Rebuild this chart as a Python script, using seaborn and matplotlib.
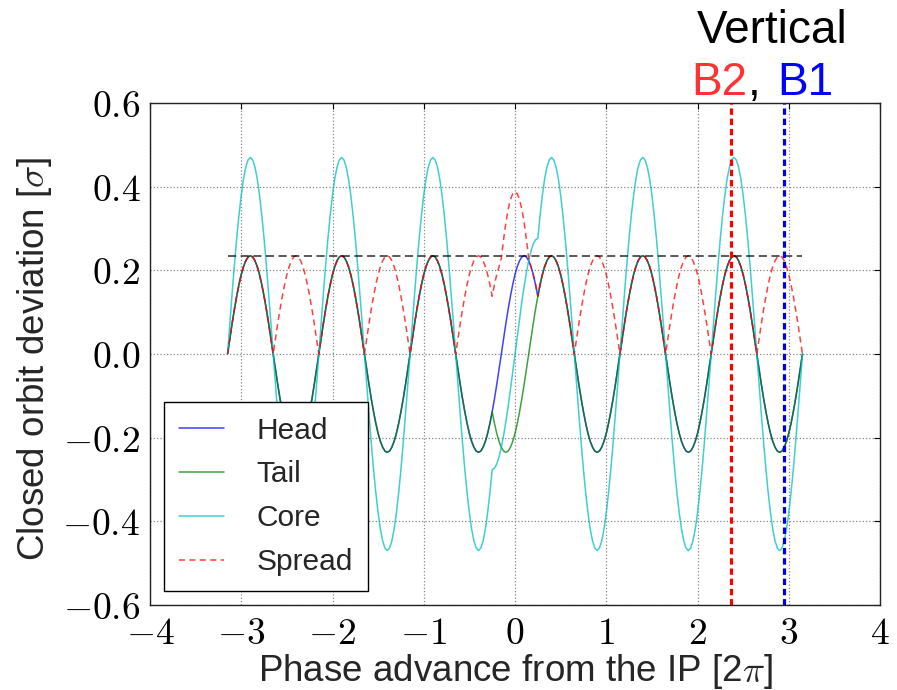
import matplotlib
matplotlib.use("Agg")
import matplotlib.pyplot as plt
import seaborn as sns
import pandas as pd

# ---------------- data ----------------
phase = [
    -3.150, -3.125, -3.100, -3.075, -3.050, -3.025, -3.000, -2.975, -2.950, -2.925,
    -2.900, -2.875, -2.850, -2.825, -2.800, -2.775, -2.750, -2.725, -2.700, -2.675,
    -2.650, -2.625, -2.600, -2.575, -2.550, -2.525, -2.500, -2.475, -2.450, -2.425,
    -2.400, -2.375, -2.350, -2.325, -2.300, -2.275, -2.250, -2.225, -2.200, -2.175,
    -2.150, -2.125, -2.100, -2.075, -2.050, -2.025, -2.000, -1.975, -1.950, -1.925,
    -1.900, -1.875, -1.850, -1.825, -1.800, -1.775, -1.750, -1.725, -1.700, -1.675,
    -1.650, -1.625, -1.600, -1.575, -1.550, -1.525, -1.500, -1.475, -1.450, -1.425,
    -1.400, -1.375, -1.350, -1.325, -1.300, -1.275, -1.250, -1.225, -1.200, -1.175,
    -1.150, -1.125, -1.100, -1.075, -1.050, -1.025, -1.000, -0.975, -0.950, -0.925,
    -0.900, -0.875, -0.850, -0.825, -0.800, -0.775, -0.750, -0.725, -0.700, -0.675,
    -0.650, -0.625, -0.600, -0.575, -0.550, -0.525, -0.500, -0.475, -0.450, -0.425,
    -0.400, -0.375, -0.350, -0.325, -0.300, -0.275, -0.250, -0.225, -0.200, -0.175,
    -0.150, -0.125, -0.100, -0.075, -0.050, -0.025, 0.000, 0.025, 0.050, 0.075,
    0.100, 0.125, 0.150, 0.175, 0.200, 0.225, 0.250, 0.275, 0.300, 0.325,
    0.350, 0.375, 0.400, 0.425, 0.450, 0.475, 0.500, 0.525, 0.550, 0.575,
    0.600, 0.625, 0.650, 0.675, 0.700, 0.725, 0.750, 0.775, 0.800, 0.825,
    0.850, 0.875, 0.900, 0.925, 0.950, 0.975, 1.000, 1.025, 1.050, 1.075,
    1.100, 1.125, 1.150, 1.175, 1.200, 1.225, 1.250, 1.275, 1.300, 1.325,
    1.350, 1.375, 1.400, 1.425, 1.450, 1.475, 1.500, 1.525, 1.550, 1.575,
    1.600, 1.625, 1.650, 1.675, 1.700, 1.725, 1.750, 1.775, 1.800, 1.825,
    1.850, 1.875, 1.900, 1.925, 1.950, 1.975, 2.000, 2.025, 2.050, 2.075,
    2.100, 2.125, 2.150, 2.175, 2.200, 2.225, 2.250, 2.275, 2.300, 2.325,
    2.350, 2.375, 2.400, 2.425, 2.450, 2.475, 2.500, 2.525, 2.550, 2.575,
    2.600, 2.625, 2.650, 2.675, 2.700, 2.725, 2.750, 2.775, 2.800, 2.825,
    2.850, 2.875, 2.900, 2.925, 2.950, 2.975, 3.000, 3.025, 3.050, 3.075,
    3.100, 3.125, 3.150,
]

tail = [
    0, 0.037, 0.073, 0.107, 0.138, 0.166, 0.190, 0.209, 0.223, 0.232,
    0.235, 0.232, 0.223, 0.209, 0.190, 0.166, 0.138, 0.107, 0.073, 0.037,
    0, -0.037, -0.073, -0.107, -0.138, -0.166, -0.190, -0.209, -0.223, -0.232,
    -0.235, -0.232, -0.223, -0.209, -0.190, -0.166, -0.138, -0.107, -0.073, -0.037,
    0, 0.037, 0.073, 0.107, 0.138, 0.166, 0.190, 0.209, 0.223, 0.232,
    0.235, 0.232, 0.223, 0.209, 0.190, 0.166, 0.138, 0.107, 0.073, 0.037,
    0, -0.037, -0.073, -0.107, -0.138, -0.166, -0.190, -0.209, -0.223, -0.232,
    -0.235, -0.232, -0.223, -0.209, -0.190, -0.166, -0.138, -0.107, -0.073, -0.037,
    0, 0.037, 0.073, 0.107, 0.138, 0.166, 0.190, 0.209, 0.223, 0.232,
    0.235, 0.232, 0.223, 0.209, 0.190, 0.166, 0.138, 0.107, 0.073, 0.037,
    0, -0.037, -0.073, -0.107, -0.138, -0.166, -0.190, -0.209, -0.223, -0.232,
    -0.235, -0.232, -0.223, -0.209, -0.190, -0.166, -0.138, -0.166, -0.190, -0.209,
    -0.223, -0.232, -0.235, -0.232, -0.223, -0.209, -0.190, -0.166, -0.138, -0.107,
    -0.073, -0.037, 0, 0.037, 0.073, 0.107, 0.138, 0.166, 0.190, 0.209,
    0.223, 0.232, 0.235, 0.232, 0.223, 0.209, 0.190, 0.166, 0.138, 0.107,
    0.073, 0.037, 0, -0.037, -0.073, -0.107, -0.138, -0.166, -0.190, -0.209,
    -0.223, -0.232, -0.235, -0.232, -0.223, -0.209, -0.190, -0.166, -0.138, -0.107,
    -0.073, -0.037, 0, 0.037, 0.073, 0.107, 0.138, 0.166, 0.190, 0.209,
    0.223, 0.232, 0.235, 0.232, 0.223, 0.209, 0.190, 0.166, 0.138, 0.107,
    0.073, 0.037, 0, -0.037, -0.073, -0.107, -0.138, -0.166, -0.190, -0.209,
    -0.223, -0.232, -0.235, -0.232, -0.223, -0.209, -0.190, -0.166, -0.138, -0.107,
    -0.073, -0.037, 0, 0.037, 0.073, 0.107, 0.138, 0.166, 0.190, 0.209,
    0.223, 0.232, 0.235, 0.232, 0.223, 0.209, 0.190, 0.166, 0.138, 0.107,
    0.073, 0.037, 0, -0.037, -0.073, -0.107, -0.138, -0.166, -0.190, -0.209,
    -0.223, -0.232, -0.235, -0.232, -0.223, -0.209, -0.190, -0.166, -0.138, -0.107,
    -0.073, -0.037, 0,
]

head = [
    0, 0.037, 0.073, 0.107, 0.138, 0.166, 0.190, 0.209, 0.223, 0.232,
    0.235, 0.232, 0.223, 0.209, 0.190, 0.166, 0.138, 0.107, 0.073, 0.037,
    0, -0.037, -0.073, -0.107, -0.138, -0.166, -0.190, -0.209, -0.223, -0.232,
    -0.235, -0.232, -0.223, -0.209, -0.190, -0.166, -0.138, -0.107, -0.073, -0.037,
    0, 0.037, 0.073, 0.107, 0.138, 0.166, 0.190, 0.209, 0.223, 0.232,
    0.235, 0.232, 0.223, 0.209, 0.190, 0.166, 0.138, 0.107, 0.073, 0.037,
    0, -0.037, -0.073, -0.107, -0.138, -0.166, -0.190, -0.209, -0.223, -0.232,
    -0.235, -0.232, -0.223, -0.209, -0.190, -0.166, -0.138, -0.107, -0.073, -0.037,
    0, 0.037, 0.073, 0.107, 0.138, 0.166, 0.190, 0.209, 0.223, 0.232,
    0.235, 0.232, 0.223, 0.209, 0.190, 0.166, 0.138, 0.107, 0.073, 0.037,
    0, -0.037, -0.073, -0.107, -0.138, -0.166, -0.190, -0.209, -0.223, -0.232,
    -0.235, -0.232, -0.223, -0.209, -0.190, -0.166, -0.138, -0.107, -0.073, -0.037,
    0, 0.037, 0.073, 0.107, 0.138, 0.166, 0.190, 0.209, 0.223, 0.232,
    0.235, 0.232, 0.223, 0.209, 0.190, 0.166, 0.138, 0.166, 0.190, 0.209,
    0.223, 0.232, 0.235, 0.232, 0.223, 0.209, 0.190, 0.166, 0.138, 0.107,
    0.073, 0.037, 0, -0.037, -0.073, -0.107, -0.138, -0.166, -0.190, -0.209,
    -0.223, -0.232, -0.235, -0.232, -0.223, -0.209, -0.190, -0.166, -0.138, -0.107,
    -0.073, -0.037, 0, 0.037, 0.073, 0.107, 0.138, 0.166, 0.190, 0.209,
    0.223, 0.232, 0.235, 0.232, 0.223, 0.209, 0.190, 0.166, 0.138, 0.107,
    0.073, 0.037, 0, -0.037, -0.073, -0.107, -0.138, -0.166, -0.190, -0.209,
    -0.223, -0.232, -0.235, -0.232, -0.223, -0.209, -0.190, -0.166, -0.138, -0.107,
    -0.073, -0.037, 0, 0.037, 0.073, 0.107, 0.138, 0.166, 0.190, 0.209,
    0.223, 0.232, 0.235, 0.232, 0.223, 0.209, 0.190, 0.166, 0.138, 0.107,
    0.073, 0.037, 0, -0.037, -0.073, -0.107, -0.138, -0.166, -0.190, -0.209,
    -0.223, -0.232, -0.235, -0.232, -0.223, -0.209, -0.190, -0.166, -0.138, -0.107,
    -0.073, -0.037, 0,
]

core = [
    0, 0.074, 0.145, 0.213, 0.276, 0.332, 0.380, 0.419, 0.447, 0.464,
    0.470, 0.464, 0.447, 0.419, 0.380, 0.332, 0.276, 0.213, 0.145, 0.074,
    0, -0.074, -0.145, -0.213, -0.276, -0.332, -0.380, -0.419, -0.447, -0.464,
    -0.470, -0.464, -0.447, -0.419, -0.380, -0.332, -0.276, -0.213, -0.145, -0.074,
    0, 0.074, 0.145, 0.213, 0.276, 0.332, 0.380, 0.419, 0.447, 0.464,
    0.470, 0.464, 0.447, 0.419, 0.380, 0.332, 0.276, 0.213, 0.145, 0.074,
    0, -0.074, -0.145, -0.213, -0.276, -0.332, -0.380, -0.419, -0.447, -0.464,
    -0.470, -0.464, -0.447, -0.419, -0.380, -0.332, -0.276, -0.213, -0.145, -0.074,
    0, 0.074, 0.145, 0.213, 0.276, 0.332, 0.380, 0.419, 0.447, 0.464,
    0.470, 0.464, 0.447, 0.419, 0.380, 0.332, 0.276, 0.213, 0.145, 0.074,
    0, -0.074, -0.145, -0.213, -0.276, -0.332, -0.380, -0.419, -0.447, -0.464,
    -0.470, -0.464, -0.447, -0.419, -0.380, -0.332, -0.276, -0.273, -0.263, -0.246,
    -0.223, -0.195, -0.162, -0.125, -0.085, -0.043, 0, 0.043, 0.085, 0.125,
    0.162, 0.195, 0.223, 0.246, 0.263, 0.273, 0.276, 0.332, 0.380, 0.419,
    0.447, 0.464, 0.470, 0.464, 0.447, 0.419, 0.380, 0.332, 0.276, 0.213,
    0.145, 0.074, 0, -0.074, -0.145, -0.213, -0.276, -0.332, -0.380, -0.419,
    -0.447, -0.464, -0.470, -0.464, -0.447, -0.419, -0.380, -0.332, -0.276, -0.213,
    -0.145, -0.074, 0, 0.074, 0.145, 0.213, 0.276, 0.332, 0.380, 0.419,
    0.447, 0.464, 0.470, 0.464, 0.447, 0.419, 0.380, 0.332, 0.276, 0.213,
    0.145, 0.074, 0, -0.074, -0.145, -0.213, -0.276, -0.332, -0.380, -0.419,
    -0.447, -0.464, -0.470, -0.464, -0.447, -0.419, -0.380, -0.332, -0.276, -0.213,
    -0.145, -0.074, 0, 0.074, 0.145, 0.213, 0.276, 0.332, 0.380, 0.419,
    0.447, 0.464, 0.470, 0.464, 0.447, 0.419, 0.380, 0.332, 0.276, 0.213,
    0.145, 0.074, 0, -0.074, -0.145, -0.213, -0.276, -0.332, -0.380, -0.419,
    -0.447, -0.464, -0.470, -0.464, -0.447, -0.419, -0.380, -0.332, -0.276, -0.213,
    -0.145, -0.074, 0,
]

spread = [
    0, 0.037, 0.073, 0.107, 0.138, 0.166, 0.190, 0.209, 0.223, 0.232,
    0.235, 0.232, 0.223, 0.209, 0.190, 0.166, 0.138, 0.107, 0.073, 0.037,
    0, 0.037, 0.073, 0.107, 0.138, 0.166, 0.190, 0.209, 0.223, 0.232,
    0.235, 0.232, 0.223, 0.209, 0.190, 0.166, 0.138, 0.107, 0.073, 0.037,
    0, 0.037, 0.073, 0.107, 0.138, 0.166, 0.190, 0.209, 0.223, 0.232,
    0.235, 0.232, 0.223, 0.209, 0.190, 0.166, 0.138, 0.107, 0.073, 0.037,
    0, 0.037, 0.073, 0.107, 0.138, 0.166, 0.190, 0.209, 0.223, 0.232,
    0.235, 0.232, 0.223, 0.209, 0.190, 0.166, 0.138, 0.107, 0.073, 0.037,
    0, 0.037, 0.073, 0.107, 0.138, 0.166, 0.190, 0.209, 0.223, 0.232,
    0.235, 0.232, 0.223, 0.209, 0.190, 0.166, 0.138, 0.107, 0.073, 0.037,
    0, 0.037, 0.073, 0.107, 0.138, 0.166, 0.190, 0.209, 0.223, 0.232,
    0.235, 0.232, 0.223, 0.209, 0.190, 0.166, 0.138, 0.166, 0.190, 0.209,
    0.228, 0.274, 0.314, 0.346, 0.369, 0.383, 0.388, 0.383, 0.369, 0.346,
    0.314, 0.274, 0.228, 0.209, 0.190, 0.166, 0.138, 0.166, 0.190, 0.209,
    0.223, 0.232, 0.235, 0.232, 0.223, 0.209, 0.190, 0.166, 0.138, 0.107,
    0.073, 0.037, 0, 0.037, 0.073, 0.107, 0.138, 0.166, 0.190, 0.209,
    0.223, 0.232, 0.235, 0.232, 0.223, 0.209, 0.190, 0.166, 0.138, 0.107,
    0.073, 0.037, 0, 0.037, 0.073, 0.107, 0.138, 0.166, 0.190, 0.209,
    0.223, 0.232, 0.235, 0.232, 0.223, 0.209, 0.190, 0.166, 0.138, 0.107,
    0.073, 0.037, 0, 0.037, 0.073, 0.107, 0.138, 0.166, 0.190, 0.209,
    0.223, 0.232, 0.235, 0.232, 0.223, 0.209, 0.190, 0.166, 0.138, 0.107,
    0.073, 0.037, 0, 0.037, 0.073, 0.107, 0.138, 0.166, 0.190, 0.209,
    0.223, 0.232, 0.235, 0.232, 0.223, 0.209, 0.190, 0.166, 0.138, 0.107,
    0.073, 0.037, 0, 0.037, 0.073, 0.107, 0.138, 0.166, 0.190, 0.209,
    0.223, 0.232, 0.235, 0.232, 0.223, 0.209, 0.190, 0.166, 0.138, 0.107,
    0.073, 0.037, 0,
]

threshold_x = [-3.14, 3.14]
threshold_y = [0.235, 0.235]
b2_phase = 2.37
b1_phase = 2.95

xticks = [-4, -3, -2, -1, 0, 1, 2, 3, 4]
yticks = [-0.6, -0.4, -0.2, 0.0, 0.2, 0.4, 0.6]

# ---------------- style ----------------
sns.set_theme(style="white")
plt.rcParams["font.family"] = ["Liberation Sans", "DejaVu Sans"]
plt.rcParams["mathtext.fontset"] = "cm"

df = pd.DataFrame({"phase": phase, "Head": head, "Tail": tail,
                   "Core": core, "Spread": spread})

fig = plt.figure(figsize=(8.97, 6.90), dpi=100)
ax = fig.add_axes([150 / 897, 85 / 690, 730 / 897, 502 / 690])

alpha = 0.75
sns.lineplot(data=df, x="phase", y="Head", ax=ax, color="#0000ff",
             lw=1.1, alpha=alpha, label="Head", sort=False)
sns.lineplot(data=df, x="phase", y="Tail", ax=ax, color="#008000",
             lw=1.1, alpha=alpha, label="Tail", sort=False)
sns.lineplot(data=df, x="phase", y="Core", ax=ax, color="#00bfbf",
             lw=1.1, alpha=alpha, label="Core", sort=False)
sns.lineplot(data=df, x="phase", y="Spread", ax=ax, color="#ff0000",
             lw=1.1, alpha=alpha, label="Spread", sort=False,
             linestyle=(0, (4.0, 2.8)))
sns.lineplot(x=threshold_x, y=threshold_y, ax=ax, color="black", lw=1.3,
             alpha=0.7, linestyle=(0, (4.5, 2.5)))

ax.axvline(b2_phase, color="#ff0000", lw=2.3, linestyle=(0, (2.0, 1.2)))
ax.axvline(b1_phase, color="#0000dd", lw=2.3, linestyle=(0, (2.0, 1.2)))

ax.set_xlim(-4, 4)
ax.set_ylim(-0.6, 0.6)
ax.set_xticks(xticks)
ax.set_xticklabels([f"${v}$" for v in xticks], fontsize=27)
ax.set_yticks(yticks)
ax.set_yticklabels([f"${v:.1f}$" for v in yticks], fontsize=27)
ax.tick_params(direction="in", length=4, width=0.8, top=True, right=True,
               colors="black")
ax.tick_params(axis="x", pad=8)
ax.tick_params(axis="y", pad=7)
ax.grid(True, linestyle=":", color="#888888", lw=0.9)
for sp in ax.spines.values():
    sp.set_color("#222222")
    sp.set_linewidth(1.0)

ax.set_xlabel(r"Phase advance from the IP [2$\pi$]", fontsize=26.5,
              labelpad=0)
ax.set_ylabel(r"Closed orbit deviation [$\sigma$]", fontsize=26.5)
ax.yaxis.set_label_coords(-0.132, 0.49)

leg = ax.legend(loc="lower left", fontsize=21.5, handlelength=1.5,
                handletextpad=1.1, labelspacing=0.53, borderaxespad=0.47,
                borderpad=0.5, fancybox=False, framealpha=1,
                edgecolor="black")
leg.get_frame().set_linewidth(1.0)

# Title block at top right
fig.text(697 / 897, 1 - 43 / 690, "Vertical", fontsize=33, color="black",
         ha="left", va="baseline")
fig.text(691 / 897, 1 - 95 / 690, "B2", fontsize=33, color="#ff3333",
         ha="left", va="baseline")
fig.text(748 / 897, 1 - 95 / 690, ",", fontsize=33, color="black",
         ha="left", va="baseline")
fig.text(777 / 897, 1 - 95 / 690, "B1", fontsize=33, color="#0000ff",
         ha="left", va="baseline")

fig.savefig("out.png", dpi=100)
